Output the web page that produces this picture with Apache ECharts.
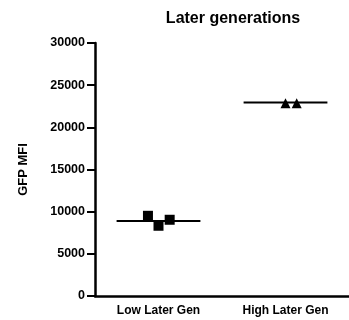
<!DOCTYPE html>
<html>
<head>
<meta charset="utf-8">
<script src="https://cdn.jsdelivr.net/npm/echarts@6/dist/echarts.min.js"></script>
<style>
  html, body { margin: 0; padding: 0; background: #fff; }
  #chart { width: 349px; height: 320px; }
</style>
</head>
<body>
<div id="chart"></div>
<script>
// groups on the x axis
var categories = ["Low Later Gen", "High Later Gen"];
var yTicks = [0, 5000, 10000, 15000, 20000, 25000, 30000];

// individual replicates: [x position (jittered around group index), GFP MFI]
var lowPoints = [[-0.083, 9510], [0, 8330], [0.088, 9040]];
var highPoints = [[1, 22870], [1.088, 22870]];

// median bars
var lowMedian = 8880;
var highMedian = 22940;
var medianHalfWidth = 0.33;

var font = "Liberation Sans, Arial, Helvetica, sans-serif";

var chartDom = document.getElementById("chart");
var myChart = echarts.init(chartDom);
var option;

function medianLine(idx, val) {
  return [[idx - medianHalfWidth, val], [idx + medianHalfWidth, val]];
}

option = {
  animation: false,
  title: {
    text: "Later generations",
    left: 228,
    top: 6,
    textAlign: "center",
    textStyle: { fontFamily: font, fontSize: 16, fontWeight: "bold", color: "#000" }
  },
  grid: { left: 95, top: 43, width: 266, height: 253 },
  xAxis: [
    {
      type: "category",
      data: categories,
      boundaryGap: true,
      axisLine: { lineStyle: { color: "#000", width: 2.5 } },
      axisTick: { alignWithLabel: true, length: 4, lineStyle: { color: "#000", width: 2 } },
      axisLabel: { margin: 9, color: "#000", fontFamily: font, fontSize: 12, fontWeight: "bold" },
      splitLine: { show: false }
    },
    {
      type: "value",
      min: -0.5,
      max: 1.5,
      show: false
    }
  ],
  yAxis: {
    type: "value",
    min: yTicks[0],
    max: yTicks[yTicks.length - 1],
    interval: yTicks[1] - yTicks[0],
    name: "GFP MFI",
    nameLocation: "middle",
    nameGap: 65,
    nameTextStyle: { fontFamily: font, fontSize: 13, fontWeight: "bold", color: "#000" },
    axisLine: { show: true, onZero: false, lineStyle: { color: "#000", width: 2.5 } },
    axisTick: { show: true, length: 8, lineStyle: { color: "#000", width: 2 } },
    axisLabel: {
      margin: 10, color: "#000", fontFamily: font, fontSize: 12.5, fontWeight: "bold",
      formatter: function (v) { return String(v); }
    },
    splitLine: { show: false }
  },
  series: [
    {
      type: "line",
      xAxisIndex: 1,
      data: medianLine(0, lowMedian),
      symbol: "none",
      lineStyle: { color: "#000", width: 2 }
    },
    {
      type: "line",
      xAxisIndex: 1,
      data: medianLine(1, highMedian),
      symbol: "none",
      lineStyle: { color: "#000", width: 2 }
    },
    {
      type: "scatter",
      xAxisIndex: 1,
      data: lowPoints,
      symbol: "rect",
      symbolSize: 10,
      itemStyle: { color: "#000", opacity: 1 }
    },
    {
      type: "scatter",
      xAxisIndex: 1,
      data: highPoints,
      symbol: "triangle",
      symbolSize: 10,
      itemStyle: { color: "#000", opacity: 1 }
    }
  ]
};

option && myChart.setOption(option);
</script>
</body>
</html>
